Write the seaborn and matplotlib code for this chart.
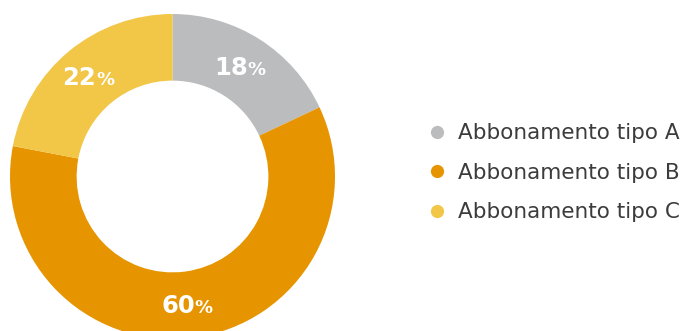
import numpy as np
import matplotlib
matplotlib.use("Agg")
import matplotlib.pyplot as plt
from matplotlib.lines import Line2D
import seaborn as sns

categories = ["Abbonamento tipo A", "Abbonamento tipo B", "Abbonamento tipo C"]
shares = [18, 60, 22]
colors = ["#BBBCBE", "#E69500", "#F2C646"]

sns.set_theme(style="white")
plt.rcParams["font.family"] = ["DejaVu Sans"]

W, H = 685, 331
fig = plt.figure(figsize=(W / 100, H / 100), dpi=100)
ax = fig.add_axes([0, 0, 1, 1])

cx, cy, R = 172.5, 154.5, 162.5
ring = 0.41
wedges, _ = ax.pie(shares, colors=colors, startangle=90, counterclock=False,
                   center=(cx, cy), radius=R, frame=True,
                   wedgeprops=dict(width=R * ring, linewidth=0))
ax.set_xlim(0, W)
ax.set_ylim(0, H)
ax.set_aspect("equal")
ax.axis("off")

# percentage labels centred in the ring
r_lab = R * (1 - ring / 2)
for w, v in zip(wedges, shares):
    ang = np.deg2rad((w.theta1 + w.theta2) / 2)
    x = cx + r_lab * np.cos(ang)
    y = cy + r_lab * np.sin(ang) - 8
    ax.text(x + 6, y, f"{v}", ha="right", va="baseline", color="white",
            fontsize=17.5, fontweight="bold")
    ax.text(x + 6, y, "%", ha="left", va="baseline", color="white",
            fontsize=13, fontweight="bold")

handles = [Line2D([], [], marker="o", linestyle="none", markersize=9.5,
                  markerfacecolor=c, markeredgewidth=0) for c in colors]
leg = ax.legend(handles, categories, loc="center left",
                bbox_to_anchor=(420 / W, 0.478), frameon=False,
                fontsize=15.5, handletextpad=0.55, labelspacing=0.91,
                handlelength=0.8, borderaxespad=0)
for t in leg.get_texts():
    t.set_color("#3C3C3C")

fig.savefig("out.png", dpi=100)
